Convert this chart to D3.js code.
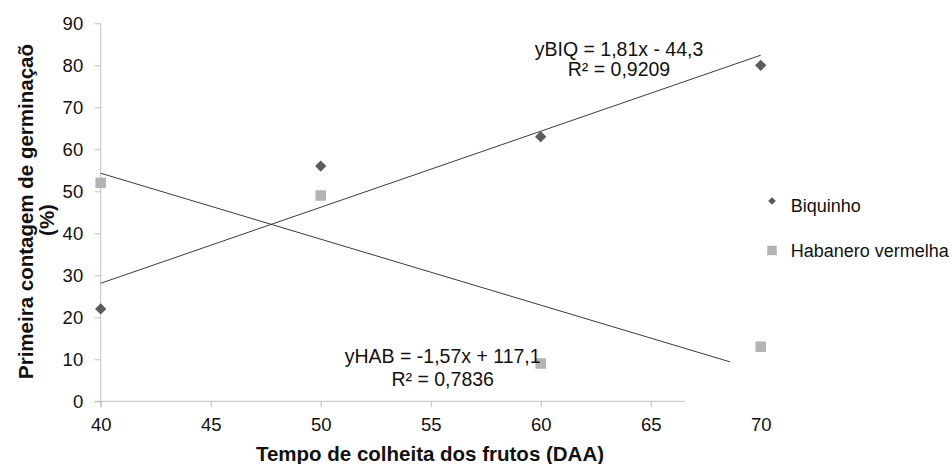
<!DOCTYPE html>
<html>
<head>
<meta charset="utf-8">
<script src="https://cdn.jsdelivr.net/npm/d3@7"></script>
<style>
  body { margin: 0; background: #fff; }
  text { font-family: "Liberation Sans", Arial, sans-serif; fill: #111; }
</style>
</head>
<body>
<div id="chart"></div>
<script>
// data
var tempo = [40, 50, 60, 70];
var biquinho = [22, 56, 63, 80];
var habanero = [52, 49, 9, 13];

// linear fits: slope, intercept, and the x range each line covers
var biqFit = [1.81, -44.3];
var habFit = [-1.57, 117.1];
var biqFitRange = [40, 70];
var habFitRange = [40, 68.6];

var xTicks = [40, 45, 50, 55, 60, 65, 70];
var yTicks = [0, 10, 20, 30, 40, 50, 60, 70, 80, 90];

var seriesNames = ["Biquinho", "Habanero vermelha"];
var biqEq = ["yBIQ = 1,81x - 44,3", "R\u00b2 = 0,9209"];
var habEq = ["yHAB = -1,57x + 117,1", "R\u00b2 = 0,7836"];

var width = 951, height = 464;

var x = d3.scaleLinear().domain([40, 70]).range([100.7, 760.7]);
var y = d3.scaleLinear().domain([0, 90]).range([401.3, 23.3]);

var svg = d3.select("#chart").append("svg")
    .attr("width", width)
    .attr("height", height);

svg.append("rect").attr("width", width).attr("height", height).attr("fill", "#fff");

var axisColor = "#bfbfbf";

// y axis
var yAxis = d3.axisLeft(y).tickValues(yTicks).tickSize(6).tickPadding(11.5);
var gy = svg.append("g")
    .attr("transform", "translate(" + x(40) + ",0)")
    .call(yAxis);
gy.select(".domain").remove();
gy.selectAll(".tick line").attr("stroke", axisColor);
gy.selectAll(".tick text")
    .style("font-size", "18.5px")
    .attr("fill", "#111");
gy.append("line")
    .attr("x1", 0).attr("x2", 0)
    .attr("y1", y(90)).attr("y2", y(0) + 6)
    .attr("stroke", axisColor);

// x axis (line stops short of 70, as in the original)
var xAxis = d3.axisBottom(x).tickValues(xTicks).tickSize(6).tickPadding(10.7);
var gx = svg.append("g")
    .attr("transform", "translate(0," + y(0) + ")")
    .call(xAxis);
gx.select(".domain").remove();
gx.selectAll(".tick line")
    .attr("stroke", axisColor)
    .filter(function(d) { return d === 70; }).remove();
gx.selectAll(".tick text")
    .style("font-size", "18.5px")
    .attr("fill", "#111");
gx.append("line")
    .attr("x1", x(40) - 6).attr("x2", 685)
    .attr("y1", 0).attr("y2", 0)
    .attr("stroke", axisColor);

// trend lines
function fitLine(fit, range) {
  return range.map(function(t) { return [x(t), y(fit[0] * t + fit[1])]; });
}
var line = d3.line();
svg.append("path")
    .attr("d", line(fitLine(biqFit, biqFitRange)))
    .attr("stroke", "#3a3a3a").attr("stroke-width", 1).attr("fill", "none");
svg.append("path")
    .attr("d", line(fitLine(habFit, habFitRange)))
    .attr("stroke", "#3a3a3a").attr("stroke-width", 1).attr("fill", "none");

// markers
var diamond = d3.symbol().type(d3.symbolSquare).size(64);
var square = d3.symbol().type(d3.symbolSquare).size(110);

svg.selectAll(".biq")
    .data(tempo)
  .enter().append("path")
    .attr("class", "biq")
    .attr("d", diamond)
    .attr("transform", function(d, i) { return "translate(" + x(d) + "," + y(biquinho[i]) + ") rotate(45)"; })
    .attr("fill", "#5c5c5c");

svg.selectAll(".hab")
    .data(tempo)
  .enter().append("path")
    .attr("class", "hab")
    .attr("d", square)
    .attr("transform", function(d, i) { return "translate(" + x(d) + "," + y(habanero[i]) + ")"; })
    .attr("fill", "#b3b3b3");

// equations
svg.selectAll(".eqb")
    .data(biqEq)
  .enter().append("text")
    .attr("x", 619)
    .attr("y", function(d, i) { return 55.5 + i * 20.5; })
    .attr("text-anchor", "middle")
    .style("font-size", "19.5px")
    .text(function(d) { return d; });

svg.selectAll(".eqh")
    .data(habEq)
  .enter().append("text")
    .attr("x", 442.7)
    .attr("y", function(d, i) { return 363.3 + i * 22.5; })
    .attr("text-anchor", "middle")
    .style("font-size", "19.5px")
    .text(function(d) { return d; });

// legend
var legend = svg.selectAll(".legend")
    .data(seriesNames)
  .enter().append("g")
    .attr("class", "legend")
    .attr("transform", function(d, i) { return "translate(772," + (201 + i * 49.5) + ")"; });

legend.append("path")
    .attr("d", function(d, i) {
      return i === 0 ? d3.symbol().type(d3.symbolSquare).size(30)() : d3.symbol().type(d3.symbolSquare).size(90)();
    })
    .attr("transform", function(d, i) { return i === 0 ? "rotate(45)" : null; })
    .attr("fill", function(d, i) { return i === 0 ? "#5c5c5c" : "#b3b3b3"; });

legend.append("text")
    .attr("x", 18.7)
    .attr("y", function(d, i) { return i === 0 ? 11 : 6; })
    .style("font-size", "18px")
    .text(function(d) { return d; });

// axis titles
svg.append("text")
    .attr("x", 430)
    .attr("y", 461)
    .attr("text-anchor", "middle")
    .style("font-size", "20.5px")
    .style("font-weight", "bold")
    .text("Tempo de colheita dos frutos (DAA)");

svg.append("text")
    .attr("transform", "translate(33,211.5) rotate(-90)")
    .attr("text-anchor", "middle")
    .style("font-size", "20.5px")
    .style("font-weight", "bold")
    .text("Primeira contagem de germina\u00e7a\u00f5");

svg.append("text")
    .attr("transform", "translate(54,220) rotate(-90)")
    .attr("text-anchor", "middle")
    .style("font-size", "20.5px")
    .style("font-weight", "bold")
    .text("(%)");
</script>
</body>
</html>
